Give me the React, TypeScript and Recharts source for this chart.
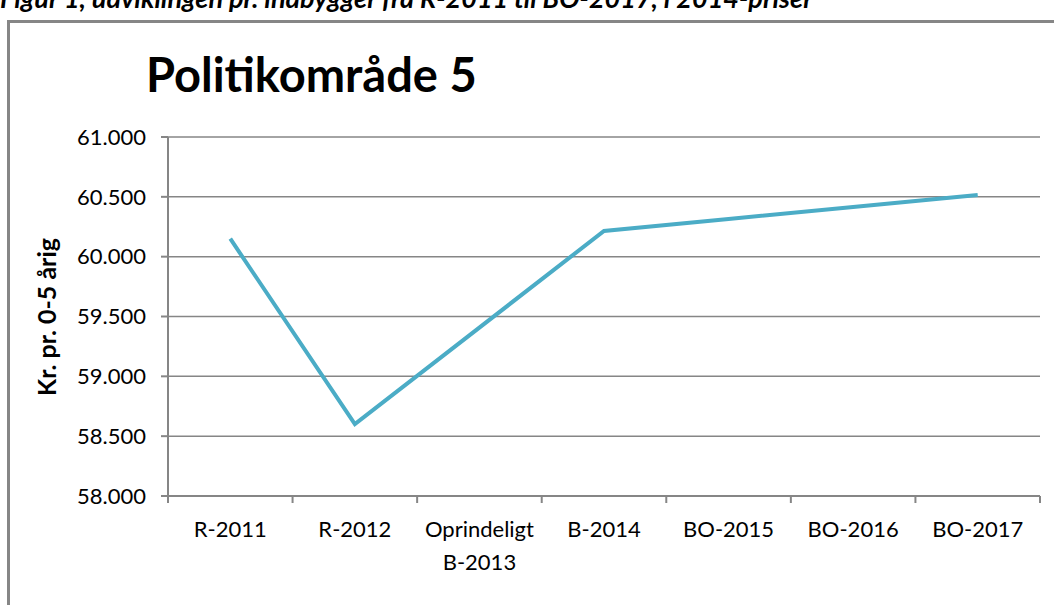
import { LineChart, Line, XAxis, YAxis, CartesianGrid } from 'recharts';

const categories = ['R-2011', 'R-2012', 'Oprindeligt B-2013', 'B-2014', 'BO-2015', 'BO-2016', 'BO-2017'];
const values: (number | null)[] = [60150, 58600, null, 60215, 60315, 60415, 60515];
const yTicks = [58000, 58500, 59000, 59500, 60000, 60500, 61000];

const FONT = 'Lato, "Open Sans", sans-serif';
const GRAY = '#868686';
const W = 1054;
const H = 605;
const MARGIN = { top: 137, right: 14, bottom: 29, left: 38 };
const Y_WIDTH = 130;
const BAND = (W - MARGIN.left - MARGIN.right - Y_WIDTH) / categories.length;

const data = categories.map((name, i) => ({ name, pos: i + 0.5, value: values[i] }));
const boundaryTicks = categories.map((_, i) => i).concat(categories.length);

const fmt = (v: number) => v.toLocaleString('en-US').replace(',', '.');

// tick sits on a category boundary, the label goes in the middle of the band to its right
function CategoryTick({ x, y, payload }: any) {
  const label = categories[payload.value];
  if (!label) return <g />;
  const cx = x + BAND / 2;
  const lines = label.startsWith('Oprindeligt') ? ['Oprindeligt', label.slice(12)] : [label];
  return (
    <text x={cx} y={y + 32} textAnchor="middle" fill="#000" fontSize={22} fontFamily={FONT}>
      {lines.map((w, i) => (
        <tspan key={i} x={cx} dy={i === 0 ? 0 : 33}>{w}</tspan>
      ))}
    </text>
  );
}

export default function App() {
  return (
    <div style={{ position: 'absolute', left: 0, top: 0, width: W, height: H, overflow: 'hidden', background: '#fff' }}>
      <div style={{ position: 'absolute', left: 0, top: -19, whiteSpace: 'nowrap', fontFamily: FONT, fontWeight: 700, fontStyle: 'italic', fontSize: 27, color: '#000' }}>
        Figur 1, udviklingen pr. indbygger fra R-2011 til BO-2017, i 2014-priser
      </div>
      <div style={{ position: 'absolute', left: 7, top: 20, width: 1100, height: 700, border: `3px solid ${GRAY}` }} />
      <div style={{ position: 'absolute', left: 146, top: 44, fontFamily: FONT, fontWeight: 700, fontSize: 47, color: '#000', lineHeight: '60px' }}>
        Politikområde 5
      </div>
      <div style={{ position: 'absolute', left: 46, top: 317, transform: 'translate(-50%, -50%) rotate(-90deg)', whiteSpace: 'nowrap', fontFamily: FONT, fontWeight: 700, fontSize: 25, color: '#000' }}>
        Kr. pr. 0-5 årig
      </div>
      <div style={{ position: 'absolute', left: 0, top: 0 }}>
        <LineChart width={W} height={H} data={data} margin={MARGIN}>
          <CartesianGrid horizontal vertical={false} stroke={GRAY} strokeWidth={1.5} />
          <XAxis
            type="number"
            dataKey="pos"
            domain={[0, categories.length]}
            ticks={boundaryTicks}
            interval={0}
            tick={<CategoryTick />}
            height={80}
            tickSize={7}
            stroke={GRAY}
            strokeWidth={2}
          />
          <YAxis
            type="number"
            domain={[58000, 61000]}
            ticks={yTicks}
            tickFormatter={fmt}
            width={Y_WIDTH}
            tickSize={7}
            tickMargin={15}
            stroke={GRAY}
            strokeWidth={2}
            tick={{ fill: '#000', fontSize: 22, fontFamily: FONT }}
          />
          <Line
            type="linear"
            dataKey="value"
            stroke="#4BACC6"
            strokeWidth={4}
            dot={false}
            activeDot={false}
            connectNulls
            isAnimationActive={false}
          />
        </LineChart>
      </div>
    </div>
  );
}
